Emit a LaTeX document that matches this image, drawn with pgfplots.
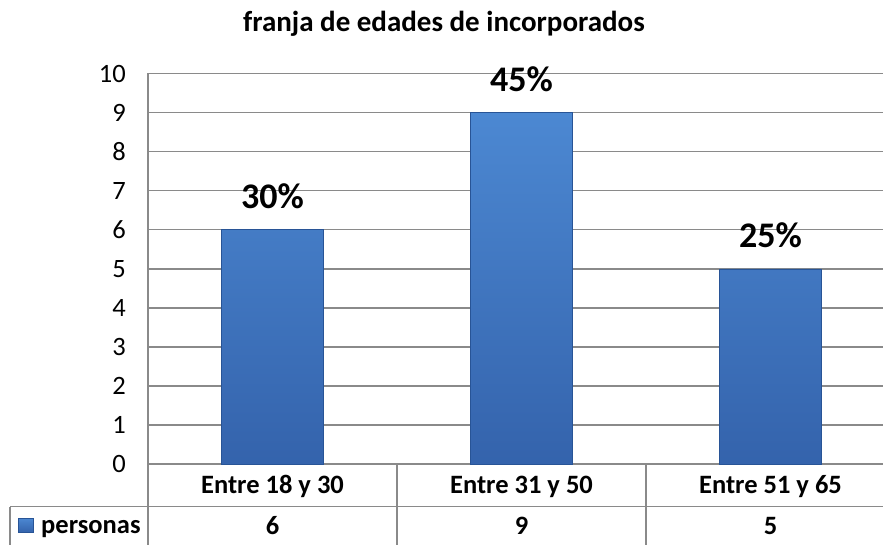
\documentclass[border=0pt]{standalone}
\usepackage{pgfplots}
\pgfplotsset{compat=1.18}
\usepackage{pgfplotstable}
\usepackage{fontspec}
\setmainfont{Carlito}
\definecolor{gridgray}{RGB}{138,138,138}
\definecolor{bartop}{RGB}{76,136,210}
\definecolor{barbot}{RGB}{52,99,172}
\definecolor{baredge}{RGB}{40,84,150}

\pgfplotstableread{
x y pct
0 6 30
1 9 45
2 5 25
}\datatable

\begin{document}
\begin{tikzpicture}[x=1pt,y=1pt]
\useasboundingbox (0,0) rectangle (883,544);
\clip (0,0) rectangle (883,544);
\begin{axis}[
  at={(148pt,80pt)}, anchor=south west,
  scale only axis, width=735pt, height=390.5pt,
  xmin=-0.5, xmax=2.4518, ymin=0, ymax=10,
  clip=false,
  axis x line*=bottom, axis y line*=left,
  axis line style={-, gridgray, line width=1.6pt},
  ytick={0,1,...,10}, ymajorgrids,
  grid style={gridgray, line width=1.6pt},
  major tick length=0pt,
  /pgf/number format/assume math mode=true,
  yticklabel style={font=\fontsize{26.5}{26.5}\selectfont, anchor=east, inner sep=0pt, xshift=-22pt},
  xtick={0,1,2},
  xticklabels={Entre 18 y 30, Entre 31 y 50, Entre 51 y 65},
  xticklabel style={font=\bfseries\fontsize{26.5}{26.5}\selectfont, anchor=base, inner sep=0pt, yshift=-29pt},
  extra x ticks={0,1,2},
  extra x tick labels={6,9,5},
  extra x tick style={xticklabel style={yshift=-41pt}},
]
\addplot[ybar, bar width=102pt, draw=baredge, top color=bartop, bottom color=barbot,
  point meta=explicit,
  nodes near coords={\pgfmathprintnumber{\pgfplotspointmeta}\%},
  nodes near coords style={font=\bfseries\fontsize{36}{36}\selectfont, anchor=base, inner sep=0pt, yshift=21pt, text=black}]
  table[x=x, y=y, meta=pct]{\datatable};
\end{axis}
\node[anchor=base, font=\bfseries\fontsize{29}{29}\selectfont] at (444,512) {franja de edades de incorporados};
\draw[gridgray, line width=1.6pt] (148,80) -- (148,-2);
\draw[gridgray, line width=1.6pt] (397,80) -- (397,-2);
\draw[gridgray, line width=1.6pt] (646,80) -- (646,-2);
\draw[gridgray, line width=1.6pt] (10,37.5) -- (890,37.5);
\draw[gridgray, line width=1.6pt] (10,37.5) -- (10,-2);
\draw[baredge, top color=bartop, bottom color=barbot] (18,12) rectangle (33,26);
\node[anchor=base west, inner sep=0pt, font=\bfseries\fontsize{26.5}{26.5}\selectfont] at (41,11) {personas};
\end{tikzpicture}
\end{document}
